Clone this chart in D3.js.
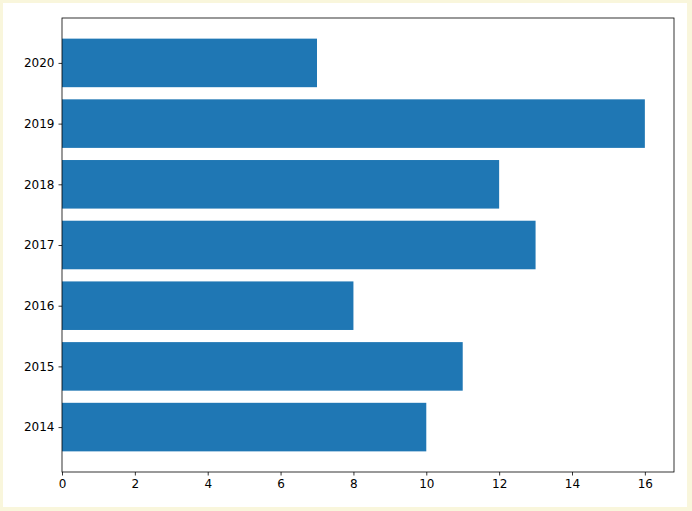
<!DOCTYPE html><html><head><script src="https://cdn.jsdelivr.net/npm/d3@7"></script>
<style>body{margin:0;background:#f9f6dc}</style></head><body><script>
const categories=["2014","2015","2016","2017","2018","2019","2020"];
const values=[10,11,8,13,12,16,7];
const xTicks=[0,2,4,6,8,10,12,14,16];
const svg=d3.select("body").append("svg").attr("width",692).attr("height",511);
svg.append("rect").attr("x",3).attr("y",3).attr("width",684).attr("height",504).attr("fill","#fff");
const L=62,R=674,T=18,B=472;
const x=d3.scaleLinear().domain([0,16.8]).range([L,R]);
const y=d3.scaleLinear().domain([-0.74,6.74]).range([B,T]);
svg.selectAll(".bar").data(values).join("rect").attr("x",x(0)).attr("y",(d,i)=>y(i+0.4))
 .attr("width",d=>x(d)-x(0)).attr("height",(d,i)=>y(i-0.4)-y(i+0.4)).attr("fill","#1f77b4");
const fnt="DejaVu Sans";
const xa=svg.append("g").attr("transform",`translate(0,${B})`).call(d3.axisBottom(x).tickValues(xTicks).tickSize(3.5).tickPadding(4));
const ya=svg.append("g").attr("transform",`translate(${L},0)`).call(d3.axisLeft(y).tickValues(d3.range(7)).tickFormat(i=>categories[i]).tickSize(3.5).tickPadding(4));
[xa,ya].forEach(a=>{a.selectAll("text").attr("font-family",fnt).attr("font-size",12).attr("fill","#000");a.select(".domain").remove();a.selectAll("line").attr("stroke","#000").attr("stroke-width",0.8);});
svg.append("rect").attr("x",L).attr("y",T).attr("width",R-L).attr("height",B-T).attr("fill","none").attr("stroke","#000").attr("stroke-width",0.8);
</script></body></html>
